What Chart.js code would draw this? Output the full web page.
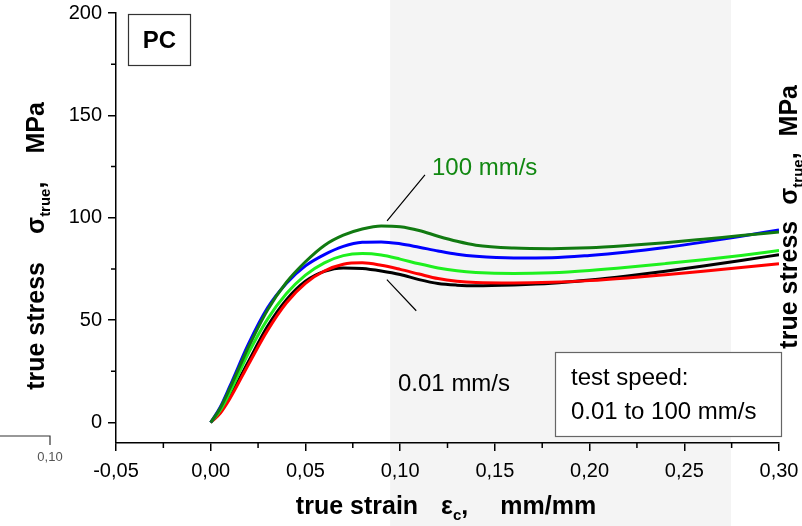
<!DOCTYPE html>
<html>
<head>
<meta charset="utf-8">
<script src="https://cdn.jsdelivr.net/npm/chart.js@4.4.1/dist/chart.umd.min.js"></script>
<style>
  html, body { margin: 0; padding: 0; background: #fff; }
  #wrap { width: 802px; height: 526px; position: relative; }
</style>
</head>
<body>
<div id="wrap"><canvas id="stressChart" width="802" height="526"></canvas></div>
<script>
// true strain (mm/mm)
const strain = [0, 0.005, 0.01, 0.02, 0.03, 0.04, 0.05, 0.06, 0.07, 0.08, 0.09, 0.10,
  0.11, 0.12, 0.13, 0.14, 0.16, 0.18, 0.20, 0.22, 0.24, 0.26, 0.28, 0.30];

// true stress (MPa) per test speed
const speed100 = [0, 7, 16.5, 37, 55, 68.5, 78.5, 86.5, 91.5, 94.5, 96, 95.6,
  93.8, 91, 88.5, 86.6, 85.2, 84.9, 85.3, 86.4, 87.8, 89.5, 91.3, 93];
const speed10 = [0, 7.5, 17.5, 38.5, 56, 68, 76.5, 82, 86, 88, 88.2, 87.3,
  85.6, 83.8, 82.2, 81.2, 80.4, 80.5, 81.6, 83.3, 85.5, 88.1, 91, 94];
const speed1 = [0, 6, 14.5, 34, 50.5, 63, 72, 78, 81.5, 82.5, 81.8, 79.8,
  77.5, 75.5, 74.1, 73.3, 72.8, 73.2, 74.3, 75.8, 77.6, 79.5, 81.6, 84];
const speed01 = [0, 4.5, 11.5, 28.5, 45, 58.5, 68, 74, 77.3, 78, 76.8, 74.8,
  72.5, 70.3, 69, 68.4, 68.2, 68.5, 69.3, 70.6, 72.2, 73.9, 75.7, 77.6];
const speed001 = [0, 5, 12.5, 30, 47, 60, 69, 73.8, 75.5, 75.2, 74, 72.3,
  69.8, 67.9, 67.1, 66.8, 67.2, 68, 69.6, 71.6, 73.9, 76.4, 79.1, 82];

const xTicks = [-0.05, 0, 0.05, 0.10, 0.15, 0.20, 0.25, 0.30];
const xTickLabels = ["-0,05", "0,00", "0,05", "0,10", "0,15", "0,20", "0,25", "0,30"];
const xMinorTicks = [-0.025, 0.025, 0.075, 0.125, 0.175, 0.225, 0.275];
const yTicks = [0, 50, 100, 150, 200];
const yTickLabels = ["0", "50", "100", "150", "200"];
const yMinorTicks = [25, 75, 125, 175];

const shadeRange = [0.0947, 0.2747];

const FONT = "'Liberation Sans', Arial, sans-serif";
const B25 = "bold 25px " + FONT;
const B15 = "bold 15px " + FONT;

const toPts = ys => ys.map((y, i) => ({ x: strain[i], y: y }));

function partsWidth(ctx, parts) {
  let w = 0;
  parts.forEach(p => {
    if (p.gap) { w += p.gap; return; }
    ctx.font = p.f || B25;
    w += ctx.measureText(p.t).width;
  });
  return w;
}

function drawParts(ctx, parts, x0) {
  let x = x0;
  parts.forEach(p => {
    if (p.gap) { x += p.gap; return; }
    ctx.font = p.f || B25;
    ctx.fillText(p.t, x, p.dy || 0);
    x += ctx.measureText(p.t).width;
  });
}

const stressTitle = gap => [
  { t: "true stress" }, { gap: gap }, { t: "σ" }, { t: "true", f: B15, dy: 6 },
  { t: "," }, { gap: gap }, { t: "MPa" }
];
const xTitle = [
  { t: "true strain" }, { gap: 23 }, { t: "ε" }, { t: "c", f: B15, dy: 6 },
  { t: "," }, { gap: 32 }, { t: "mm/mm" }
];

const decor = {
  id: "decor",
  beforeDraw(chart) {
    const { ctx, scales: { x } } = chart;
    ctx.save();
    ctx.fillStyle = "#fff";
    ctx.fillRect(0, 0, chart.width, chart.height);
    ctx.fillStyle = "#f4f4f4";
    const x1 = x.getPixelForValue(shadeRange[0]);
    const x2 = x.getPixelForValue(shadeRange[1]);
    ctx.fillRect(x1, 0, x2 - x1, chart.height);
    ctx.restore();
  },
  afterDraw(chart) {
    const { ctx, chartArea: area, scales: { x, y } } = chart;
    ctx.save();

    // minor ticks
    ctx.strokeStyle = "#000";
    ctx.lineWidth = 1.5;
    ctx.beginPath();
    xMinorTicks.forEach(v => {
      const px = x.getPixelForValue(v);
      ctx.moveTo(px, area.bottom);
      ctx.lineTo(px, area.bottom + 5);
    });
    yMinorTicks.forEach(v => {
      const py = y.getPixelForValue(v);
      ctx.moveTo(area.left, py);
      ctx.lineTo(area.left - 5, py);
    });
    ctx.stroke();

    // axis titles
    ctx.fillStyle = "#000";
    ctx.textBaseline = "alphabetic";
    ctx.textAlign = "left";
    const xw = partsWidth(ctx, xTitle);
    ctx.save();
    ctx.translate(0, 514);
    drawParts(ctx, xTitle, 446 - xw / 2);
    ctx.restore();

    const leftTitle = stressTitle(28);
    const yw = partsWidth(ctx, leftTitle);
    ctx.save();
    ctx.translate(44, 246);
    ctx.rotate(-Math.PI / 2);
    drawParts(ctx, leftTitle, -yw / 2);
    ctx.restore();

    // neighbouring panel, cut off at the right edge
    const rightTitle = stressTitle(16);
    const rw = partsWidth(ctx, rightTitle);
    ctx.save();
    ctx.translate(797, 85 + rw / 2);
    ctx.rotate(-Math.PI / 2);
    drawParts(ctx, rightTitle, -rw / 2);
    ctx.restore();

    // neighbouring panel, cut off at the left edge
    ctx.strokeStyle = "#333";
    ctx.lineWidth = 1.2;
    ctx.beginPath();
    ctx.moveTo(0, 436);
    ctx.lineTo(50, 436);
    ctx.lineTo(50, 445);
    ctx.stroke();
    ctx.fillStyle = "#555";
    ctx.font = "13px " + FONT;
    ctx.textAlign = "center";
    ctx.textBaseline = "middle";
    ctx.fillText("0,10", 50, 457);

    // PC box
    ctx.fillStyle = "#fff";
    ctx.fillRect(128, 14, 62, 51);
    ctx.strokeStyle = "#333";
    ctx.lineWidth = 1.2;
    ctx.strokeRect(128.5, 14.5, 62, 51);
    ctx.fillStyle = "#000";
    ctx.font = "bold 24px " + FONT;
    ctx.fillText("PC", 159.5, 41);

    // leader lines
    ctx.strokeStyle = "#000";
    ctx.lineWidth = 1.2;
    ctx.beginPath();
    ctx.moveTo(x.getPixelForValue(0.1131), y.getPixelForValue(121));
    ctx.lineTo(x.getPixelForValue(0.0931), y.getPixelForValue(98.5));
    ctx.moveTo(x.getPixelForValue(0.093), y.getPixelForValue(69.8));
    ctx.lineTo(x.getPixelForValue(0.1085), y.getPixelForValue(54.6));
    ctx.stroke();

    ctx.font = "24px " + FONT;
    ctx.textAlign = "left";
    ctx.fillStyle = "#118811";
    ctx.fillText("100 mm/s", 432, 168);
    ctx.fillStyle = "#000";
    ctx.fillText("0.01 mm/s", 398, 384);

    // test speed box
    ctx.fillStyle = "#fff";
    ctx.fillRect(555, 352, 226, 84);
    ctx.strokeStyle = "#666";
    ctx.strokeRect(555.5, 352.5, 226, 84);
    ctx.fillStyle = "#000";
    ctx.fillText("test speed:", 571, 378);
    ctx.fillText("0.01 to 100 mm/s", 571, 412);

    ctx.restore();
  }
};

const line = (data, color) => ({
  data: toPts(data),
  borderColor: color,
  borderWidth: 3,
  pointRadius: 0,
  fill: false,
  cubicInterpolationMode: "monotone"
});

new Chart(document.getElementById("stressChart"), {
  type: "line",
  data: {
    datasets: [
      line(speed100, "#117a11"),
      line(speed10, "#0000ff"),
      line(speed1, "#1ef01e"),
      line(speed01, "#ff0000"),
      line(speed001, "#000000")
    ]
  },
  options: {
    responsive: false,
    animation: false,
    layout: { padding: { top: 13, right: 23, left: 0, bottom: 0 } },
    plugins: { legend: { display: false }, tooltip: { enabled: false } },
    scales: {
      x: {
        type: "linear",
        min: -0.05,
        max: 0.30,
        afterBuildTicks: s => { s.ticks = xTicks.map(v => ({ value: v })); },
        afterFit: s => { s.height = 83; s.paddingLeft = 0; s.paddingRight = 0; },
        border: { color: "#000", width: 1.5 },
        grid: { drawOnChartArea: false, tickLength: 8, color: "#000", lineWidth: 1.5 },
        ticks: {
          autoSkip: false,
          maxRotation: 0,
          padding: 8,
          color: "#000",
          font: { family: FONT, size: 20 },
          callback: (v, i) => xTickLabels[i]
        }
      },
      y: {
        min: -10,
        max: 200,
        afterBuildTicks: s => { s.ticks = yTicks.map(v => ({ value: v })); },
        afterFit: s => { s.width = 116; s.paddingTop = 0; s.paddingBottom = 0; },
        border: { color: "#000", width: 1.5 },
        grid: { drawOnChartArea: false, tickLength: 8, color: "#000", lineWidth: 1.5 },
        ticks: {
          padding: 6,
          color: "#000",
          font: { family: FONT, size: 20 },
          callback: (v, i) => yTickLabels[i]
        }
      }
    }
  },
  plugins: [decor]
});
</script>
</body>
</html>
